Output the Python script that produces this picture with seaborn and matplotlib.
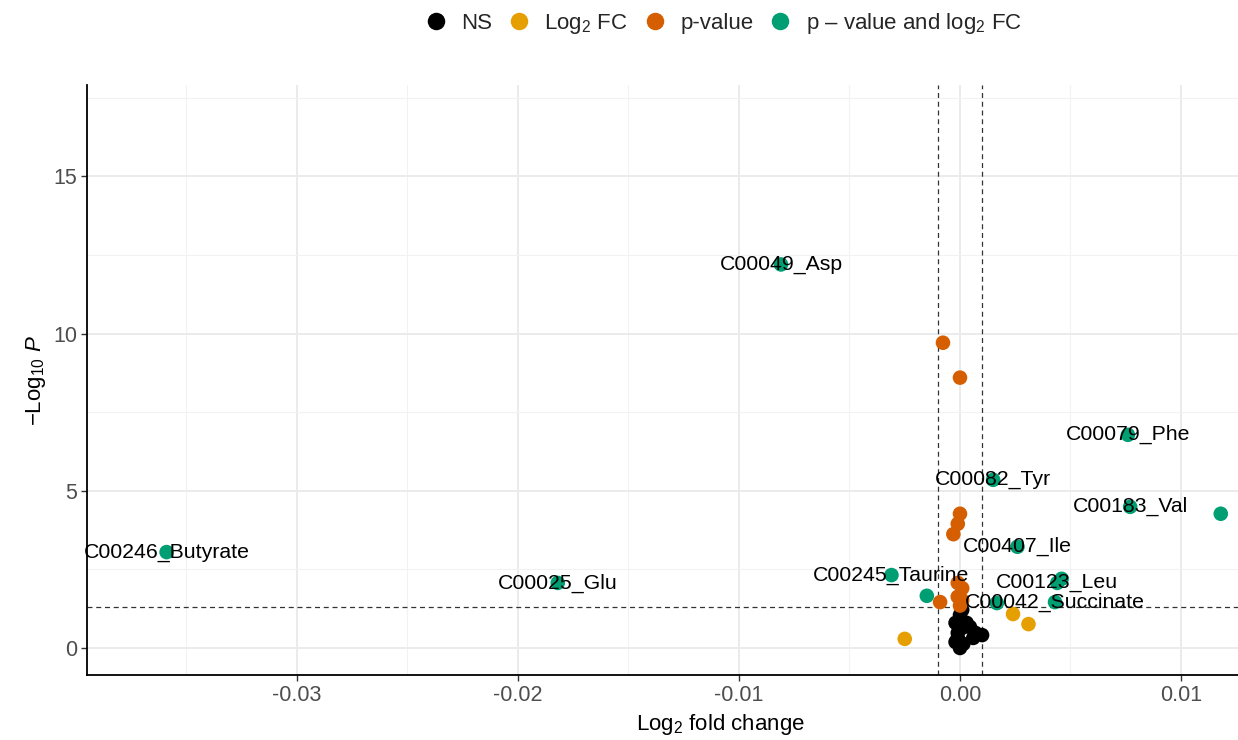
import seaborn as sns
import pandas as pd
import matplotlib.pyplot as plt
from matplotlib.ticker import MultipleLocator

# points by category: log2 fold change, -log10 p
ns_fc = [0.0001, 0.0, -0.0002, 0.0003, 0.00045, 0.0007, 0.001, 0.0006,
         -0.0001, 0.0001, -0.0002, 0.0, 0.00015, -0.0001]
ns_p = [1.21, 1.05, 0.80, 0.80, 0.67, 0.48, 0.41, 0.32, 0.48, 0.64, 0.19, 0.0, 0.13, 0.32]

fc_fc = [-0.0025, 0.0024, 0.0031]
fc_p = [0.29, 1.08, 0.76]

pv_fc = [-0.00077, 0.0, 0.0, -0.0001, -0.0003, -0.0001, 0.0001, -0.0001, 0.0001, -0.0009, 0.0]
pv_p = [9.71, 8.6, 4.27, 3.95, 3.62, 2.07, 1.9, 1.63, 1.52, 1.46, 1.35]

both_fc = [-0.0359, -0.0182, -0.0081, -0.0031, -0.0015, 0.0015, 0.00167, 0.0026,
           0.0044, 0.0046, 0.0043, 0.0076, 0.0077, 0.0118]
both_p = [3.05, 2.07, 12.2, 2.32, 1.66, 5.35, 1.43, 3.22, 2.07, 2.2, 1.46, 6.78, 4.49, 4.27]
both_lab = ['C00246_Butyrate', 'C00025_Glu', 'C00049_Asp', 'C00245_Taurine', '',
            'C00082_Tyr', '', 'C00407_Ile', 'C00123_Leu', '', 'C00042_Succinate',
            'C00079_Phe', 'C00183_Val', '']

groups = ['NS', 'Log$_2$ FC', 'p-value', 'p – value and log$_2$ FC']
colors = ['black', '#E69F00', '#D55E00', '#009E73']

rows = []
for g, xs, ys in zip(groups, [ns_fc, fc_fc, pv_fc, both_fc], [ns_p, fc_p, pv_p, both_p]):
    for x, y in zip(xs, ys):
        rows.append({'log2FC': x, 'logP': y, 'group': g})
df = pd.DataFrame(rows)

sns.set_theme(style="whitegrid")
plt.rcParams['font.family'] = ['Liberation Sans', 'DejaVu Sans']
plt.rcParams['mathtext.fontset'] = 'custom'
plt.rcParams['mathtext.rm'] = 'Liberation Sans'
plt.rcParams['mathtext.it'] = 'Liberation Sans:italic'

fig = plt.figure(figsize=(12.38, 7.4), dpi=100)
ax = fig.add_axes([0.0703, 0.0878, 0.9297, 0.797])

sns.scatterplot(data=df, x='log2FC', y='logP', hue='group', hue_order=groups,
                palette=colors, s=110, edgecolor='none', ax=ax, zorder=3)

for x, y, t in zip(both_fc, both_p, both_lab):
    if t:
        ax.text(x, y, t, ha='center', va='center', fontsize=15.3, color='black', zorder=4)

ax.axvline(-0.001, color='#333333', ls=(0, (4, 3)), lw=0.9, zorder=2)
ax.axvline(0.001, color='#333333', ls=(0, (4, 3)), lw=0.9, zorder=2)
ax.axhline(1.30, color='#333333', ls=(0, (4, 3)), lw=0.9, zorder=2)

ax.set_xlim(-0.0395, 0.01258)
ax.set_ylim(-0.86, 17.9)
xt = [-0.03, -0.02, -0.01, 0.0, 0.01]
ax.set_xticks(xt, [f"{v:.2f}" for v in xt])
ax.set_yticks([0, 5, 10, 15])
ax.xaxis.set_minor_locator(MultipleLocator(0.005))
ax.yaxis.set_minor_locator(MultipleLocator(2.5))
ax.grid(which='major', color='#EBEBEB', lw=1.4)
ax.grid(which='minor', color='#F2F2F2', lw=0.8)
ax.set_axisbelow(True)

for s in ['top', 'right']:
    ax.spines[s].set_visible(False)
for s in ['left', 'bottom']:
    ax.spines[s].set_color('black')
    ax.spines[s].set_linewidth(1.3)
ax.tick_params(axis='both', which='major', length=4, width=1, color='#333333',
               labelsize=15.5, labelcolor='#4D4D4D', bottom=True, left=True, pad=3)
ax.tick_params(which='minor', length=0)

ax.set_xlabel('Log$_2$ fold change', fontsize=16, color='black')
ax.xaxis.set_label_coords(0.55, -0.062)
ax.set_ylabel('$-\\mathrm{Log}_{10}\\ \\mathit{P}$', fontsize=16, color='black')

sns.move_legend(ax, 'center', bbox_to_anchor=(0.5795, 0.968),
                bbox_transform=fig.transFigure, ncol=4, frameon=False, title=None,
                fontsize=16, handletextpad=0.15, columnspacing=0.2, markerscale=1.2)

fig.savefig('out.png', dpi=100)
